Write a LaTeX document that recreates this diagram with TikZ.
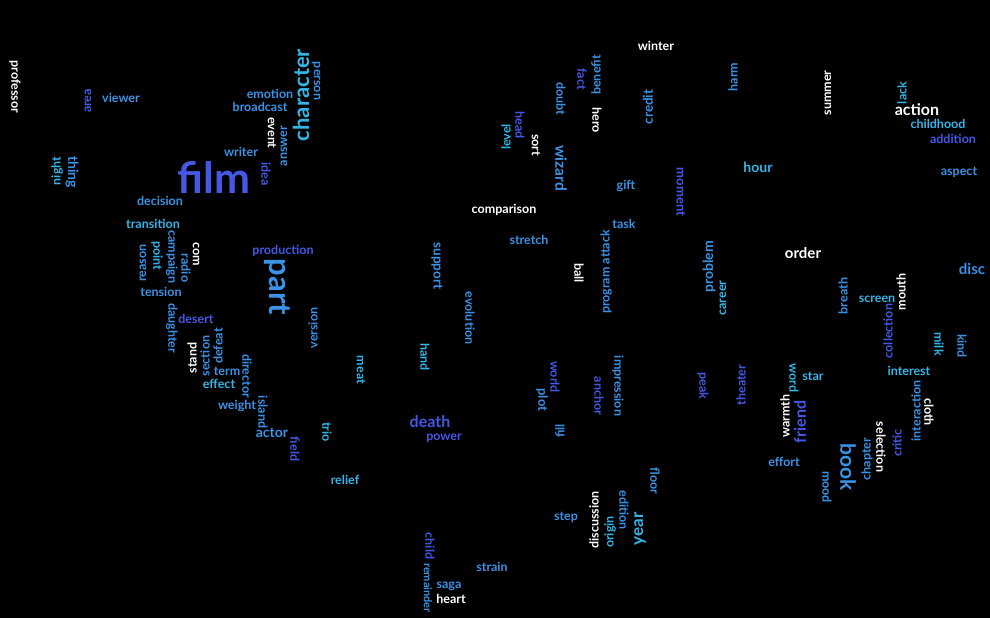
\documentclass[tikz,border=0pt]{standalone}
\usepackage{fontspec}
\setmainfont{Lato}
\definecolor{cloudcyan}{HTML}{33B5E8}
\definecolor{cloudmid}{HTML}{3A92E6}
\definecolor{cloudroyal}{HTML}{4458E6}

\begin{document}
\begin{tikzpicture}[
  x=1pt, y=-1pt,
  word/.style={inner sep=0pt, font=\fontsize{12.5}{12.5}\selectfont\bfseries},
  sz/.style={font=\fontsize{#1}{#1}\selectfont\bfseries},
  up/.style={rotate=90},
  down/.style={rotate=-90},
  wh/.style={text=white},
  cy/.style={text=cloudcyan},
  md/.style={text=cloudmid},
  ry/.style={text=cloudroyal}
]

% Background
\fill[black] (0,0) rectangle (990,618);
\useasboundingbox (0,0) rectangle (990,618);

% Left part
\node[word, wh, down] (professor) at (15,87) {professor};
\node[word, ry, up] (area) at (88,101) {area};
\node[word, md] (viewer) at (121,98) {viewer};
\node[word, cy, up] (night) at (57,171) {night};
\node[word, md, down, sz=14] (thing) at (72,172) {thing};
\node[word, md] (emotion) at (270,94) {emotion};
\node[word, md] (broadcast) at (260,107) {broadcast};
\node[word, cy, up, sz=22] (character) at (301,95) {character};
\node[word, md, down] (person) at (316,81) {person};
\node[word, wh, down] (event) at (272,133) {event};
\node[word, md, up] (answer) at (284,146) {answer};
\node[word, md] (writer) at (241,152) {writer};
\node[word, ry, down] (idea) at (266,174) {idea};
\node[word, ry, sz=43] (film) at (214,177) {film};
\node[word, md] (decision) at (160,201) {decision};
\node[word, cy] (transition) at (153,224) {transition};

% Middle left
\node[word, md, up] (reason) at (143,263) {reason};
\node[word, cy, down] (point) at (157,256) {point};
\node[word, md, down] (campaign) at (172,257) {campaign};
\node[word, md, down] (radio) at (186,268) {radio};
\node[word, wh, down] (com) at (196,254) {com};
\node[word, ry] (production) at (283,251) {production};
\node[word, md, down, sz=31] (part) at (277,287) {part};
\node[word, md] (tension) at (161,292) {tension};
\node[word, md, down] (daughter) at (172,328) {daughter};
\node[word, ry] (desert) at (196,319) {desert};
\node[word, md, up] (version) at (313,328) {version};
\node[word, wh, up] (stand) at (192,358) {stand};
\node[word, md, up] (section) at (205,356) {section};
\node[word, md, up] (defeat) at (218,346) {defeat};
\node[word, md] (term) at (227,371) {term};
\node[word, cy] (effect) at (219,384) {effect};
\node[word, md, down] (director) at (247,376) {director};
\node[word, md] (weight) at (237,406) {weight};
\node[word, md, down] (island) at (263,412) {island};
\node[word, md, sz=14] (actor) at (272,433) {actor};
\node[word, ry, down] (field) at (295,449) {field};
\node[word, cy, down] (trio) at (327,432) {trio};
\node[word, cy, down] (meat) at (361,370) {meat};
\node[word, cy] (relief) at (345,480) {relief};

% Bottom middle
\node[word, cy, down] (hand) at (425,357) {hand};
\node[word, ry, sz=16] (death) at (430,422) {death};
\node[word, ry] (power) at (444,438) {power};
\node[word, ry, down] (child) at (430,546) {child};
\node[word, md, down, sz=11] (remainder) at (428,588) {remainder};
\node[word, md] (strain) at (492,567) {strain};
\node[word, md] (saga) at (449,586) {saga};
\node[word, wh] (heart) at (451,599) {heart};

% Top middle
\node[word, wh] (winter) at (656,46) {winter};
\node[word, ry, down] (fact) at (582,79) {fact};
\node[word, md, up] (benefit) at (596,75) {benefit};
\node[word, md, down] (doubt) at (561,99) {doubt};
\node[word, wh, down] (hero) at (597,120) {hero};
\node[word, md, up, sz=13.5] (credit) at (648,107) {credit};
\node[word, ry, down] (head) at (520,125) {head};
\node[word, cy, up] (level) at (506,137) {level};
\node[word, wh, down] (sort) at (536,145) {sort};
\node[word, md, down, sz=15.5] (wizard) at (561,168) {wizard};
\node[word, md] (gift) at (626,186) {gift};
\node[word, ry, down, sz=13] (moment) at (681,192) {moment};
\node[word, wh] (comparison) at (504,210) {comparison};
\node[word, md] (task) at (624,224) {task};
\node[word, md] (stretch) at (529,240) {stretch};

% Centre
\node[word, md, down, sz=13.5] (support) at (437,266) {support};
\node[word, wh, down] (ball) at (579,273) {ball};
\node[word, md, up] (program) at (606,272) {program attack};
\node[word, md, up, sz=14] (problem) at (709,267) {problem};
\node[word, cy, up] (career) at (723,298) {career};
\node[word, md, down] (evolution) at (470,318) {evolution};
\node[word, ry, down] (world) at (555,377) {world};
\node[word, md, down, sz=13] (plot) at (542,400) {plot};
\node[word, ry, down] (anchor) at (599,396) {anchor};
\node[word, md, down] (impression) at (618,386) {impression};
\node[word, md, up] (fill) at (560,431) {fill};
\node[word, ry, down] (peak) at (703,386) {peak};
\node[word, ry, up] (theater) at (741,385) {theater};

% Bottom right of centre
\node[word, md, down] (floor) at (655,481) {floor};
\node[word, md] (step) at (566,517) {step};
\node[word, wh, up] (discussion) at (594,520) {discussion};
\node[word, cy, up] (origin) at (610,532) {origin};
\node[word, md, down] (edition) at (624,510) {edition};
\node[word, cy, up, sz=17] (year) at (640,529) {year};

% Top right
\node[word, md, up] (harm) at (733,77) {harm};
\node[word, wh, up] (summer) at (828,93) {summer};
\node[word, cy, up] (lack) at (902,93) {lack};
\node[word, wh, sz=16] (action) at (917,110) {action};
\node[word, cy] (childhood) at (938,124) {childhood};
\node[word, ry] (addition) at (953,139) {addition};
\node[word, cy, sz=14] (hour) at (758,167) {hour};
\node[word, md] (aspect) at (959,172) {aspect};

% Right
\node[word, wh, sz=15] (order) at (803,253) {order};
\node[word, md, sz=15] (disc) at (972,269) {disc};
\node[word, md, up] (breath) at (843,296) {breath};
\node[word, cy] (screen) at (877,299) {screen};
\node[word, wh, up] (mouth) at (901,292) {mouth};
\node[word, ry, up] (collection) at (888,331) {collection};
\node[word, cy, down] (milk) at (939,344) {milk};
\node[word, md, down] (kind) at (962,346) {kind};
\node[word, cy] (interest) at (909,371) {interest};

% Bottom right
\node[word, cy, down] (wordw) at (794,378) {word};
\node[word, cy] (star) at (813,376) {star};
\node[word, wh, up] (warmth) at (785,416) {warmth};
\node[word, ry, up, sz=16] (friend) at (800,422) {friend};
\node[word, md] (effort) at (784,462) {effort};
\node[word, md, down] (mood) at (827,487) {mood};
\node[word, md, down, sz=21] (book) at (848,467) {book};
\node[word, md, up] (chapter) at (867,459) {chapter};
\node[word, wh, down] (selection) at (881,447) {selection};
\node[word, ry, up] (critic) at (897,443) {critic};
\node[word, md, up] (interaction) at (916,411) {interaction};
\node[word, wh, down] (cloth) at (929,412) {cloth};

\end{tikzpicture}
\end{document}
